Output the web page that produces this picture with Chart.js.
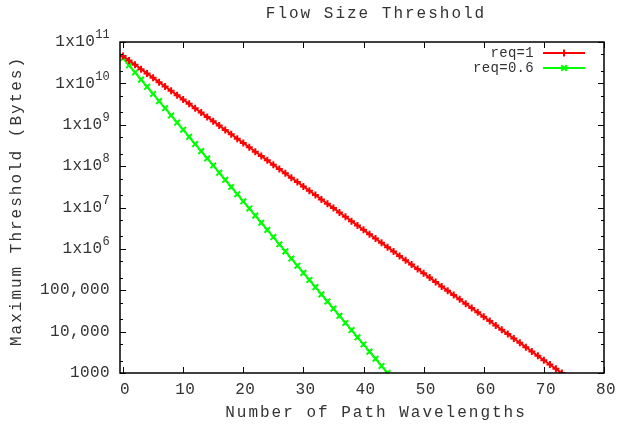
<!DOCTYPE html>
<html>
<head>
<meta charset="utf-8">
<script src="https://cdn.jsdelivr.net/npm/chart.js@4.4.0/dist/chart.umd.min.js"></script>
<style>
  html, body { margin: 0; padding: 0; background: #fff; }
  #wrap { width: 619px; height: 428px; }
</style>
</head>
<body>
<div id="wrap"><canvas id="chart"></canvas></div>
<script>
// chart text
const chartTitle = "Flow Size Threshold";
const xTitle = "Number of Path Wavelengths";
const yTitle = "Maximum Threshold (Bytes)";
const seriesLabels = ["req=1", "req=0.6"];

// values, one per wavelength count starting at 0
const req1Values = [
  4.57e10, 3.59e10, 2.82e10, 2.21e10, 1.74e10, 1.36e10, 1.07e10, 8.41e9, 6.61e9, 5.19e9,
  4.07e9, 3.20e9, 2.51e9, 1.97e9, 1.55e9, 1.22e9, 9.55e8, 7.50e8, 5.89e8, 4.62e8,
  3.63e8, 2.85e8, 2.24e8, 1.76e8, 1.38e8, 1.08e8, 8.51e7, 6.68e7, 5.25e7, 4.12e7,
  3.24e7, 2.54e7, 2.00e7, 1.57e7, 1.23e7, 9.66e6, 7.59e6, 5.96e6, 4.68e6, 3.67e6,
  2.88e6, 2.26e6, 1.78e6, 1.40e6, 1.10e6, 8.61e5, 6.76e5, 5.31e5, 4.17e5, 3.27e5,
  2.57e5, 2.02e5, 1.58e5, 1.24e5, 9.77e4, 7.67e4, 6.03e4, 4.73e4, 3.72e4, 2.92e4,
  2.29e4, 1.80e4, 1.41e4, 1.11e4, 8.71e3, 6.84e3, 5.37e3, 4.22e3, 3.31e3, 2.60e3,
  2.04e3, 1.60e3, 1.26e3, 1.0e3
];
const req06Values = [
  4.07e10, 2.74e10, 1.84e10, 1.23e10, 8.28e9, 5.56e9, 3.73e9, 2.51e9, 1.68e9, 1.13e9,
  7.59e8, 5.09e8, 3.42e8, 2.30e8, 1.54e8, 1.04e8, 6.95e7, 4.67e7, 3.13e7, 2.10e7,
  1.41e7, 9.48e6, 6.37e6, 4.28e6, 2.87e6, 1.93e6, 1.29e6, 8.69e5, 5.83e5, 3.92e5,
  2.63e5, 1.77e5, 1.19e5, 7.96e4, 5.35e4, 3.59e4, 2.41e4, 1.62e4, 1.09e4, 7.29e3,
  4.90e3, 3.29e3, 2.21e3, 1.48e3, 1.0e3
];

// axis ticks
const xTicks = [0, 10, 20, 30, 40, 50, 60, 70, 80];
const yTicks = [1e3, 1e4, 1e5, 1e6, 1e7, 1e8, 1e9, 1e10, 1e11];
const yTickLabels = [
  ["1000", ""], ["10,000", ""], ["100,000", ""],
  ["1x10", "6"], ["1x10", "7"], ["1x10", "8"], ["1x10", "9"], ["1x10", "10"], ["1x10", "11"]
];
const yMinorSteps = [2, 5];

const colors = ["#ff0000", "#00ff00"];
const FONT = "'Liberation Mono', 'DejaVu Sans Mono', monospace";
const TEXT = "#333";

function setFont(ctx, size, spacing) {
  ctx.font = size + "px " + FONT;
  ctx.letterSpacing = (spacing || 0) + "px";
}

// gnuplot-like frame: border, inward ticks on all four sides, labels, key
const gnuplotFrame = {
  id: "gnuplotFrame",
  afterDraw(chart) {
    const { ctx, chartArea: a, scales } = chart;
    const x = scales.x, y = scales.y;
    ctx.save();
    ctx.strokeStyle = "#000";

    // ticks
    ctx.lineWidth = 1;
    ctx.beginPath();
    xTicks.forEach((t) => {
      const px = Math.round(x.getPixelForValue(t)) + 0.5;
      ctx.moveTo(px, a.bottom); ctx.lineTo(px, a.bottom - 6);
      ctx.moveTo(px, a.top); ctx.lineTo(px, a.top + 6);
    });
    yTicks.forEach((t, i) => {
      const py = Math.round(y.getPixelForValue(t)) + 0.5;
      ctx.moveTo(a.left, py); ctx.lineTo(a.left + 6, py);
      ctx.moveTo(a.right, py); ctx.lineTo(a.right - 6, py);
      if (i < yTicks.length - 1) {
        yMinorSteps.forEach((m) => {
          const my = Math.round(y.getPixelForValue(t * m)) + 0.5;
          ctx.moveTo(a.left, my); ctx.lineTo(a.left + 3, my);
          ctx.moveTo(a.right, my); ctx.lineTo(a.right - 3, my);
        });
      }
    });
    ctx.stroke();

    // border
    ctx.lineWidth = 1.5;
    ctx.strokeRect(a.left, a.top, a.right - a.left, a.bottom - a.top);

    ctx.fillStyle = TEXT;
    // x tick labels
    setFont(ctx, 16, 0.4);
    ctx.textAlign = "center";
    ctx.textBaseline = "middle";
    xTicks.forEach((t) => {
      ctx.fillText(String(t), x.getPixelForValue(t) + 2, a.bottom + 17);
    });

    // y tick labels with superscripts
    const rightEdge = a.left - 10;
    yTickLabels.forEach(([base, sup], i) => {
      const py = y.getPixelForValue(yTicks[i]);
      setFont(ctx, 12, 0.2);
      const supW = sup ? ctx.measureText(sup).width : 0;
      if (sup) {
        ctx.textAlign = "right";
        ctx.textBaseline = "middle";
        ctx.fillText(sup, rightEdge, py - 7);
      }
      setFont(ctx, 16, 0.4);
      ctx.textAlign = "right";
      ctx.textBaseline = "middle";
      ctx.fillText(base, rightEdge - supW, py);
    });

    // titles
    setFont(ctx, 16, 2.0);
    ctx.textAlign = "center";
    ctx.textBaseline = "middle";
    ctx.fillText(chartTitle, 376, 14);
    ctx.fillText(xTitle, 376, 413);
    ctx.save();
    ctx.translate(17, 201);
    ctx.rotate(-Math.PI / 2);
    ctx.fillText(yTitle, 0, 0);
    ctx.restore();

    // key
    setFont(ctx, 14, 0.3);
    ctx.textAlign = "right";
    ctx.textBaseline = "middle";
    chart.data.datasets.forEach((ds, i) => {
      const ky = a.top + 11 + i * 15;
      ctx.fillStyle = TEXT;
      ctx.fillText(ds.label, 534, ky);
      ctx.strokeStyle = ds.borderColor;
      ctx.lineWidth = 2;
      ctx.beginPath();
      ctx.moveTo(543, ky); ctx.lineTo(585, ky);
      ctx.stroke();
      Chart.helpers.drawPoint(ctx, {
        pointStyle: ds.pointStyle, radius: ds.pointRadius, borderWidth: ds.pointBorderWidth
      }, 564, ky);
    });
    ctx.restore();
  }
};

new Chart(document.getElementById("chart"), {
  type: "line",
  data: {
    datasets: [
      {
        label: seriesLabels[0],
        data: req1Values.map((v, i) => ({ x: i, y: v })),
        borderColor: colors[0],
        backgroundColor: colors[0],
        borderWidth: 2,
        pointStyle: "cross",
        pointRadius: 3.5,
        pointBorderWidth: 2,
        tension: 0,
      },
      {
        label: seriesLabels[1],
        data: req06Values.map((v, i) => ({ x: i, y: v })),
        borderColor: colors[1],
        backgroundColor: colors[1],
        borderWidth: 2,
        pointStyle: "crossRot",
        pointRadius: 4,
        pointBorderWidth: 2,
        tension: 0,
      },
    ],
  },
  options: {
    responsive: true,
    maintainAspectRatio: false,
    animation: false,
    events: [],
    layout: { padding: { left: 120, right: 15, top: 42, bottom: 55 } },
    scales: {
      x: { type: "linear", min: -0.5, max: 80, display: false },
      y: { type: "logarithmic", min: 1000, max: 1e11, display: false },
    },
    plugins: {
      legend: { display: false },
      tooltip: { enabled: false },
      title: { display: false },
    },
  },
  plugins: [gnuplotFrame],
});
</script>
</body>
</html>
